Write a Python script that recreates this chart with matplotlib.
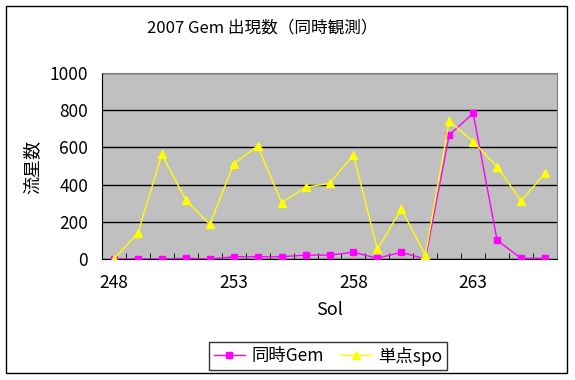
import matplotlib
matplotlib.use('Agg')
import matplotlib.pyplot as plt
from matplotlib.patches import Rectangle
from matplotlib.ticker import FixedLocator

plt.rcParams['font.family'] = ['Noto Sans CJK JP', 'DejaVu Sans']

## data
sol = [248, 249, 250, 251, 252, 253, 254, 255, 256, 257,
       258, 259, 260, 261, 262, 263, 264, 265, 266]
gem = [0, 0, 0, 4, 0, 12, 12, 12, 21, 21,
       36, 4, 36, 0, 667, 783, 100, 4, 4]
spo = [0, 140, 563, 317, 186, 511, 608, 303, 385, 407,
       559, 52, 269, 22, 742, 631, 496, 312, 461]
tick_labels = ['248', '253', '258', '263']

fig = plt.figure(figsize=(5.75, 3.8), dpi=100)
ax = fig.add_axes([102/575, 1-259/380, 455/575, 186/380])
ax.set_facecolor('#C0C0C0')

idx = list(range(len(sol)))
ax.plot(idx, gem, color='#FF00FF', marker='s', markersize=5, lw=1,
        label='同時Gem', zorder=3)
ax.plot(idx, spo, color='#FFFF00', marker='^', markersize=6, lw=1,
        label='単点spo', zorder=3)

ax.set_xlim(-0.5, len(sol)-0.5)
ax.set_ylim(0, 1000)
ax.set_yticks([0, 200, 400, 600, 800, 1000])
ax.yaxis.grid(True, color='black', lw=1)
ax.set_axisbelow(True)

ax.set_xticks([sol.index(int(t)) for t in tick_labels])
ax.set_xticklabels(tick_labels)
ax.xaxis.set_minor_locator(FixedLocator([i - 0.5 for i in range(len(sol)+1)]))
ax.tick_params(axis='x', which='major', length=0, pad=11, labelsize=12.5)
ax.tick_params(axis='x', which='minor', direction='in', length=4, color='black')
ax.tick_params(axis='y', length=0, pad=10, labelsize=12.5)

for s in ['top', 'right']:
    ax.spines[s].set_color('#808080')
for s in ['left', 'bottom']:
    ax.spines[s].set_color('black')

ax.set_xlabel('Sol', fontsize=13, labelpad=6)
fig.text(32/575, 1-167/380, '流星数', rotation=90, fontsize=13,
         ha='center', va='center')
fig.text(262/575, 1-28/380, '2007 Gem 出現数（同時観測）', fontsize=12,
         ha='center', va='center')

leg = fig.legend(loc='center', bbox_to_anchor=(328/575, 1-356/380), ncol=2,
                 fontsize=12.5, frameon=True, fancybox=False, borderpad=0.25,
                 handlelength=1.8, columnspacing=0.9, handletextpad=0.4)
leg.get_frame().set_edgecolor('black')
leg.get_frame().set_linewidth(1)

fig.patches.append(Rectangle((6/575, 1-373/380), 561/575, 367/380,
                             transform=fig.transFigure, fill=False,
                             edgecolor='black', lw=1))

fig.savefig('out.png', dpi=100)
